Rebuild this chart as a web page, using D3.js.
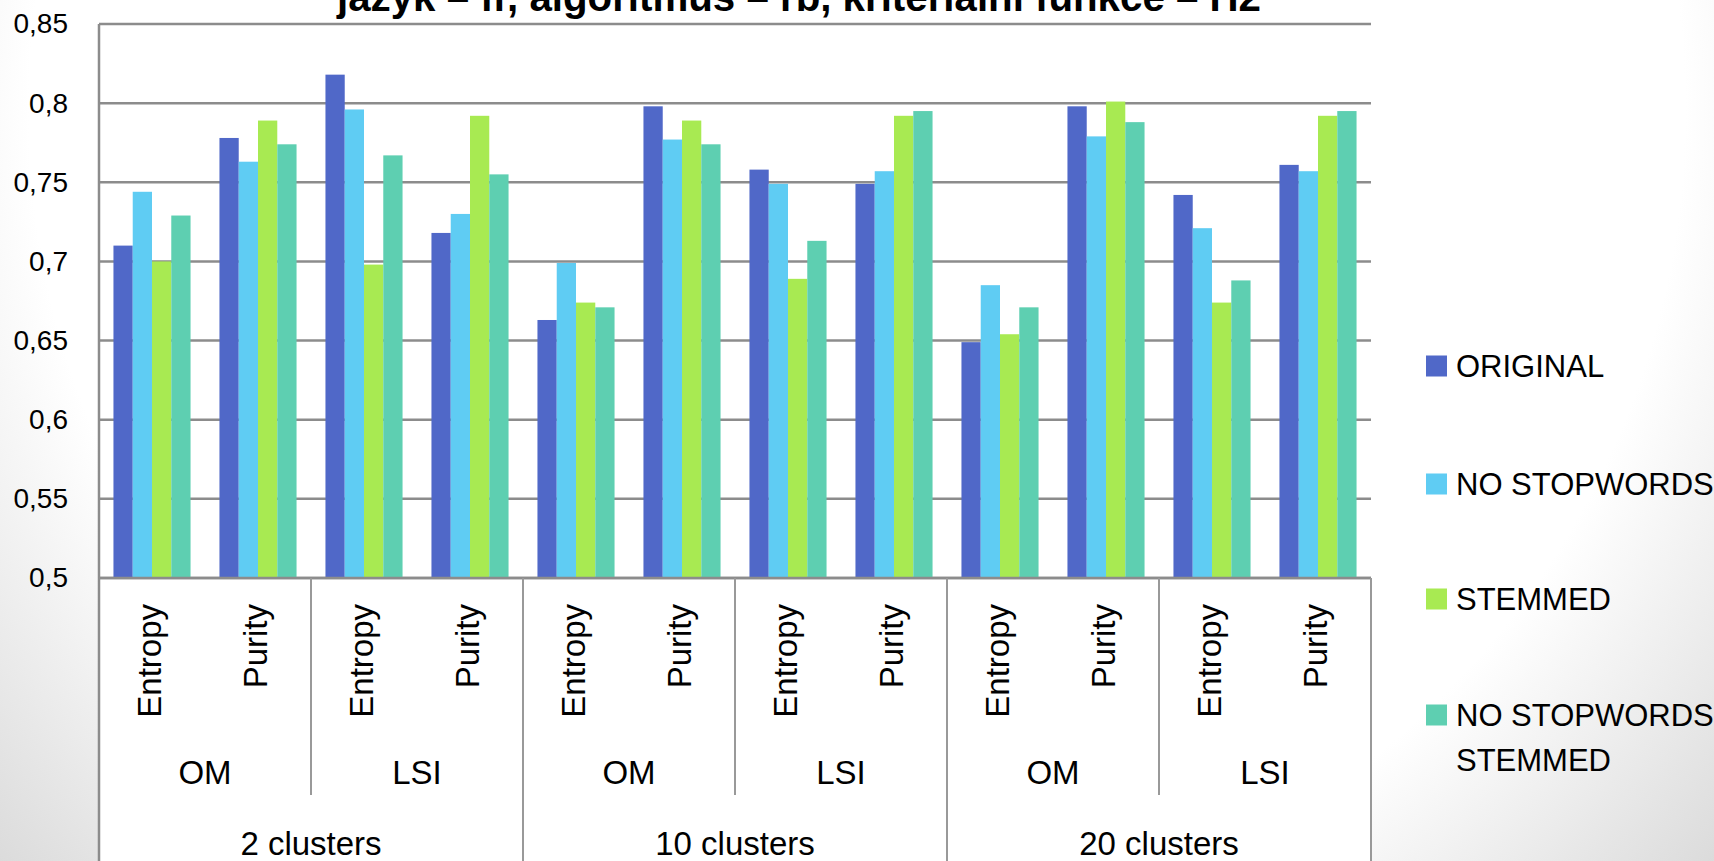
<!DOCTYPE html>
<html>
<head>
<meta charset="utf-8">
<script src="https://cdn.jsdelivr.net/npm/d3@7"></script>
<style>
  html, body { margin: 0; padding: 0; background: #fff; overflow: hidden; }
  svg { display: block; }
  text { font-family: "Liberation Sans", Arial, sans-serif; fill: #000; }
</style>
</head>
<body>
<svg id="chart" width="1714" height="861"></svg>
<script>
// Category hierarchy of the x axis (outer to inner)
const clusters = ["2 clusters", "10 clusters", "20 clusters"];
const methods = ["OM", "LSI"];
const measures = ["Entropy", "Purity"];

// Series
const seriesNames = ["ORIGINAL", "NO STOPWORDS", "STEMMED", "NO STOPWORDS STEMMED"];
const seriesColors = ["#5068c8", "#5fccf3", "#a8ea52", "#5ecfb1"];
const original           = [0.710, 0.778, 0.818, 0.718, 0.663, 0.798, 0.758, 0.749, 0.649, 0.798, 0.742, 0.761];
const noStopwords        = [0.744, 0.763, 0.796, 0.730, 0.699, 0.777, 0.749, 0.757, 0.685, 0.779, 0.721, 0.757];
const stemmed            = [0.700, 0.789, 0.698, 0.792, 0.674, 0.789, 0.689, 0.792, 0.654, 0.801, 0.674, 0.792];
const noStopwordsStemmed = [0.729, 0.774, 0.767, 0.755, 0.671, 0.774, 0.713, 0.795, 0.671, 0.788, 0.688, 0.795];

// Value axis
const yTicks = [0.5, 0.55, 0.6, 0.65, 0.7, 0.75, 0.8, 0.85];
const yTickLabels = ["0,5", "0,55", "0,6", "0,65", "0,7", "0,75", "0,8", "0,85"];

const title = "jazyk – fr, algoritmus – rb, kriteriální funkce – H2";

// ---- derived structures ----
const seriesValues = [original, noStopwords, stemmed, noStopwordsStemmed];
const categories = [];
clusters.forEach(c => methods.forEach(m => measures.forEach(s => {
  categories.push({ id: c + "|" + m + "|" + s, cluster: c, method: m, measure: s });
})));
const rows = categories.map((cat, i) => ({
  cat,
  values: seriesNames.map((name, k) => ({ name, k, value: seriesValues[k][i] }))
}));

const svg = d3.select("#chart");
const W = 1714, H = 861;
const plot = { left: 99, right: 1371, top: 24, bottom: 578 };

// slide background vignette
const defs = svg.append("defs");
const grad = defs.append("radialGradient")
  .attr("id", "bg").attr("gradientUnits", "userSpaceOnUse")
  .attr("cx", 857).attr("cy", 110).attr("r", 1150);
grad.append("stop").attr("offset", 0).attr("stop-color", "#ffffff");
grad.append("stop").attr("offset", 0.72).attr("stop-color", "#ffffff");
grad.append("stop").attr("offset", 1).attr("stop-color", "#dadada");
svg.append("rect").attr("width", W).attr("height", H).attr("fill", "url(#bg)");

// chart body (plot + category axis area)
svg.append("rect")
  .attr("x", plot.left).attr("y", plot.top)
  .attr("width", plot.right - plot.left).attr("height", H - plot.top)
  .attr("fill", "#ffffff");

// scales
const y = d3.scaleLinear().domain([0.5, 0.85]).range([plot.bottom, plot.top]);
const x0 = d3.scaleBand().domain(categories.map(d => d.id)).range([plot.left, plot.right]).padding(0);
const x1 = d3.scaleBand().domain(seriesNames).range([0, x0.bandwidth()]).paddingInner(0).paddingOuter(0.75);
const color = d3.scaleOrdinal().domain(seriesNames).range(seriesColors);

// gridlines
const gridColor = "#8c8c8c";
svg.append("g").attr("class", "grid")
  .selectAll("line").data(yTicks).join("line")
  .attr("x1", plot.left).attr("x2", plot.right)
  .attr("y1", d => y(d)).attr("y2", d => y(d))
  .attr("stroke", gridColor).attr("stroke-width", 2.5);

// value axis labels
const yAxis = d3.axisLeft(y).tickValues(yTicks)
  .tickFormat((d, i) => yTickLabels[i]).tickSize(0).tickPadding(31);
const yAxisG = svg.append("g").attr("transform", `translate(${plot.left},0)`).call(yAxis);
yAxisG.select(".domain").remove();
yAxisG.selectAll("text")
  .attr("font-family", "'Liberation Sans', Arial, sans-serif")
  .attr("font-size", 28).attr("fill", "#000");

// bars
svg.append("g").attr("class", "bars")
  .selectAll("g").data(rows).join("g")
  .attr("transform", d => `translate(${x0(d.cat.id)},0)`)
  .selectAll("rect").data(d => d.values).join("rect")
  .attr("x", d => x1(d.name))
  .attr("width", x1.bandwidth())
  .attr("y", d => y(d.value))
  .attr("height", d => y(0.5) - y(d.value))
  .attr("fill", d => color(d.name));

// axis lines
const axisColor = "#8c8c8c";
svg.append("line")
  .attr("x1", plot.left).attr("x2", plot.left)
  .attr("y1", plot.top).attr("y2", H)
  .attr("stroke", axisColor).attr("stroke-width", 2.5);
svg.append("line")
  .attr("x1", plot.left).attr("x2", plot.right)
  .attr("y1", plot.bottom).attr("y2", plot.bottom)
  .attr("stroke", axisColor).attr("stroke-width", 2.5);

// multi-level category axis
const step = x0.step();
const perMethod = measures.length;
const perCluster = methods.length * measures.length;
const level2Bottom = 795;

// separators between method groups (levels 1-2)
const methodBounds = d3.range(1, categories.length / perMethod)
  .filter(i => (i * perMethod) % perCluster !== 0)
  .map(i => plot.left + i * perMethod * step);
svg.append("g").selectAll("line").data(methodBounds).join("line")
  .attr("x1", d => d).attr("x2", d => d)
  .attr("y1", plot.bottom).attr("y2", level2Bottom)
  .attr("stroke", "#999").attr("stroke-width", 2);

// separators between cluster groups (all levels)
const clusterBounds = d3.range(1, clusters.length + 1).map(i => plot.left + i * perCluster * step);
svg.append("g").selectAll("line").data(clusterBounds).join("line")
  .attr("x1", d => d).attr("x2", d => d)
  .attr("y1", plot.bottom).attr("y2", H)
  .attr("stroke", "#999").attr("stroke-width", 2);

// level 1: measure names, rotated
svg.append("g").selectAll("text").data(categories).join("text")
  .attr("transform", d => `translate(${x0(d.id) + x0.bandwidth() / 2},604) rotate(-90)`)
  .attr("dy", "0.26em")
  .attr("text-anchor", "end")
  .attr("font-size", 33)
  .text(d => d.measure);

// level 2: methods
const methodGroups = [];
clusters.forEach((c, ci) => methods.forEach((m, mi) => {
  methodGroups.push({ label: m, start: (ci * methods.length + mi) * perMethod });
}));
svg.append("g").selectAll("text").data(methodGroups).join("text")
  .attr("x", d => plot.left + (d.start + perMethod / 2) * step)
  .attr("y", 784)
  .attr("text-anchor", "middle")
  .attr("font-size", 33)
  .text(d => d.label);

// level 3: clusters
svg.append("g").selectAll("text").data(clusters).join("text")
  .attr("x", (d, i) => plot.left + (i + 0.5) * perCluster * step)
  .attr("y", 855)
  .attr("text-anchor", "middle")
  .attr("font-size", 33)
  .text(d => d);

// legend
const legendY = [366, 484, 599, 715];
const legend = svg.append("g").attr("class", "legend");
const items = legend.selectAll("g").data(seriesNames).join("g")
  .attr("transform", (d, i) => `translate(1426,${legendY[i]})`);
items.append("rect")
  .attr("x", 0).attr("y", -10.5).attr("width", 21).attr("height", 21)
  .attr("fill", d => color(d));
items.append("text")
  .attr("x", 30).attr("y", 11)
  .attr("font-size", 31)
  .each(function (d) {
    const words = d === "NO STOPWORDS STEMMED" ? ["NO STOPWORDS", "STEMMED"] : [d];
    const t = d3.select(this);
    words.forEach((w, j) => {
      t.append("tspan").attr("x", 30).attr("dy", j === 0 ? 0 : 45).text(w);
    });
  });

// title (partly outside the top edge)
svg.append("text")
  .attr("x", 799).attr("y", 11)
  .attr("text-anchor", "middle")
  .attr("font-size", 40).attr("font-weight", "bold")
  .attr("textLength", 924).attr("lengthAdjust", "spacingAndGlyphs")
  .text(title);
</script>
</body>
</html>
